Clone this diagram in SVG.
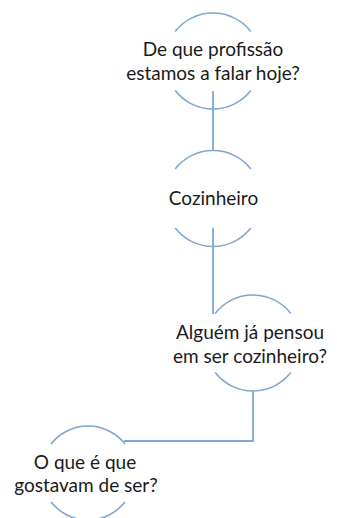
<svg xmlns="http://www.w3.org/2000/svg" width="337" height="518" viewBox="0 0 337 518">
<style>
.arc{fill:none;stroke:#7EA8D2;stroke-width:1.6}
.con{fill:none;stroke:#7EA8D2;stroke-width:1.8}
.t{font-family:Lato,"Liberation Sans",sans-serif;font-size:19px;fill:#1a1a1a;text-anchor:middle}
</style>
<rect width="337" height="518" fill="#ffffff"/>
<g id="connectors">
<path class="con" d="M213,91 V150"/>
<path class="con" d="M213,228 V314"/>
<path class="con" d="M253,391 V441 H124"/>
</g>
<g id="node1">
<path class="arc" d="M175.2,31.4 A48,48 0 0 1 250.8,31.4"/>
<path class="arc" d="M250.8,90.6 A48,48 0 0 1 175.2,90.6"/>
<text class="t" x="213" y="56">De que profissão</text>
<text class="t" x="213" y="80">estamos a falar hoje?</text>
</g>
<g id="node2">
<path class="arc" d="M175.2,168.9 A48,48 0 0 1 250.8,168.9"/>
<path class="arc" d="M250.8,228.1 A48,48 0 0 1 175.2,228.1"/>
<text class="t" x="213.5" y="205">Cozinheiro</text>
</g>
<g id="node3">
<path class="arc" d="M215.2,313.4 A48,48 0 0 1 290.8,313.4"/>
<path class="arc" d="M290.8,372.6 A48,48 0 0 1 215.2,372.6"/>
<text class="t" x="250" y="339">Alguém já pensou</text>
<text class="t" x="250" y="363">em ser cozinheiro?</text>
</g>
<g id="node4">
<path class="arc" d="M51,444 A47,47 0 0 1 125,444"/>
<path class="arc" d="M125,502 A47,47 0 0 1 51,502"/>
<text class="t" x="85" y="469">O que é que</text>
<text class="t" x="86" y="492">gostavam de ser?</text>
</g>
</svg>
